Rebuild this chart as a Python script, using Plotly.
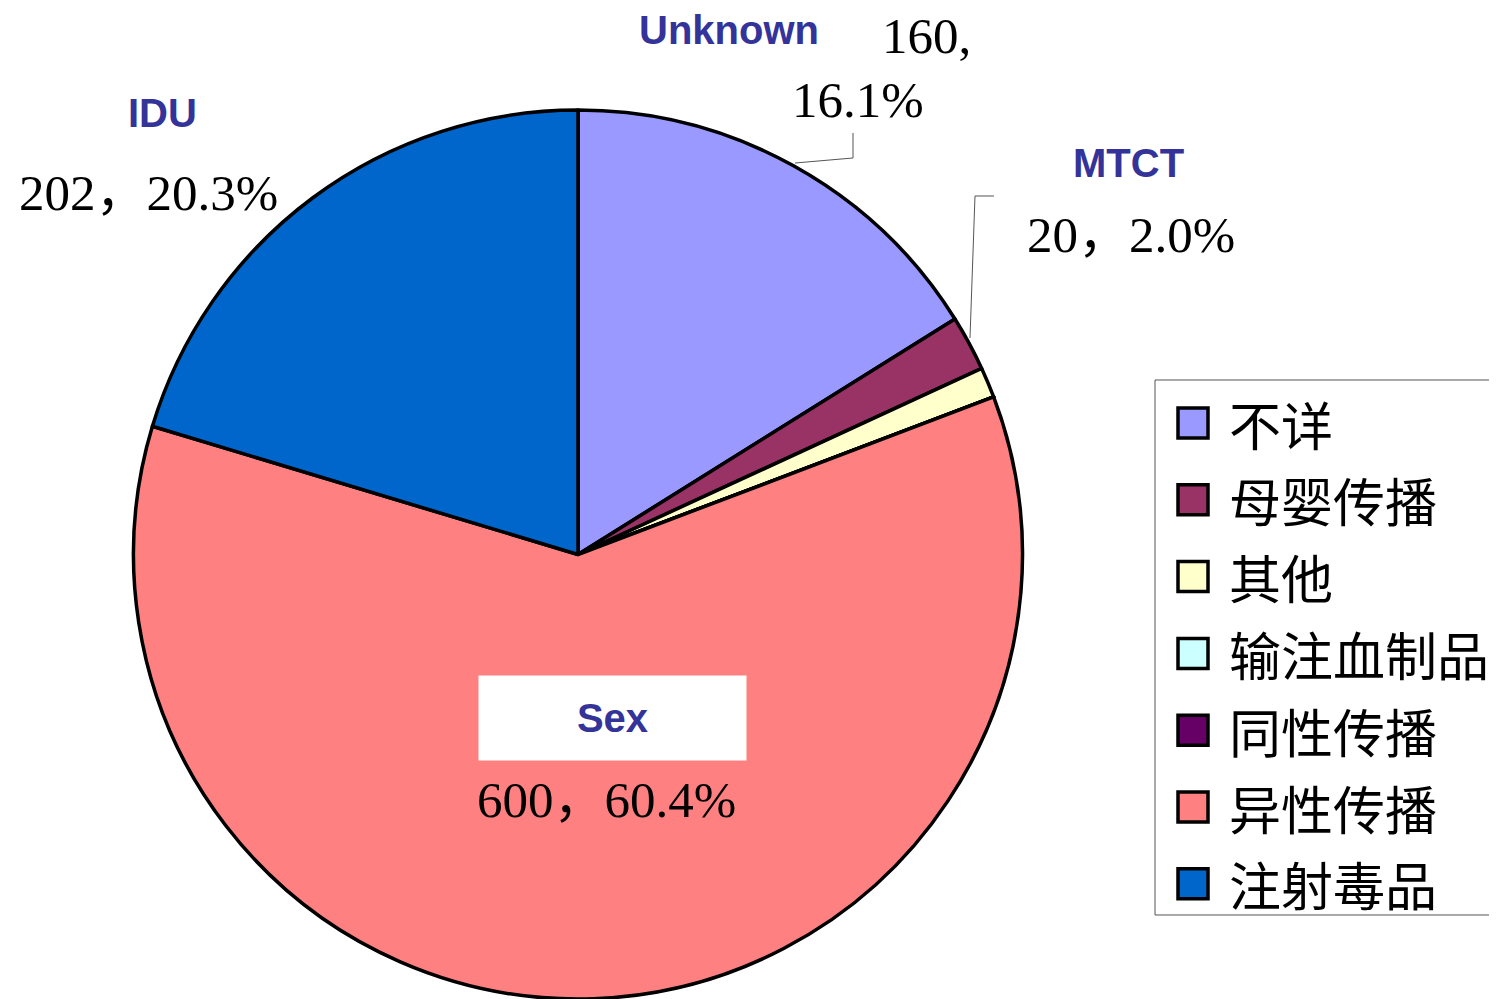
import plotly.graph_objects as go

# data
labels = ['不详', '母婴传播', '其他', '输注血制品', '同性传播', '异性传播', '注射毒品']
values = [160, 20, 11, 0, 0, 600, 202]
colors = ['#9999FF', '#993366', '#FFFFCC', '#CCFFFF', '#660066', '#FF8080', '#0066CC']
en_names = {'不详': 'Unknown', '母婴传播': 'MTCT', '异性传播': 'Sex', '注射毒品': 'IDU'}

# page has an 8px body margin, so the figure is drawn 8px smaller
OFF = 8
W, H = 1497 - OFF, 999 - OFF
total = sum(values)


def px(x):
    return (x - OFF) / W


def py(y):
    return 1 - (y - OFF) / H


fig = go.Figure(go.Pie(
    labels=labels,
    values=values,
    sort=False,
    direction='clockwise',
    rotation=0,
    marker=dict(colors=colors, line=dict(color='black', width=3.5)),
    textinfo='none',
    showlegend=False,
    domain=dict(x=[px(133), px(1023)], y=[0, py(110)]),
))

num_font = dict(family='Liberation Serif, Noto Sans CJK SC', size=51, color='black')
name_font = dict(family='Liberation Sans, Arial', size=40, color='#333399')


def pct(name):
    return values[labels.index(name)] / total * 100


def val_text(name):
    return f'{values[labels.index(name)]}，{pct(name):.1f}%'


annotations = []
# name labels
for name, (x, y) in {'不详': (729, 30), '母婴传播': (1128, 163), '注射毒品': (162, 113)}.items():
    annotations.append(dict(x=px(x), y=py(y), text='<b>%s</b>' % en_names[name],
                            font=name_font, showarrow=False, xanchor='center', yanchor='middle'))
annotations.append(dict(x=px(612.5), y=py(718), text='<b>Sex</b>', font=name_font,
                        showarrow=False, bgcolor='white', width=265, height=82,
                        xanchor='center', yanchor='middle'))

# value labels
annotations.append(dict(x=px(880), y=py(36), text=f"{values[labels.index('不详')]},", font=num_font,
                        showarrow=False, xanchor='left', yanchor='middle'))
annotations.append(dict(x=px(790), y=py(100), text=f"{pct('不详'):.1f}%", font=num_font,
                        showarrow=False, xanchor='left', yanchor='middle'))
for name, (x, y) in {'母婴传播': (1025, 235), '注射毒品': (17, 193), '异性传播': (475, 800)}.items():
    annotations.append(dict(x=px(x), y=py(y), text=val_text(name), font=num_font,
                            showarrow=False, xanchor='left', yanchor='middle'))

shapes = []
# leader lines
lead = dict(type='path', xref='paper', yref='paper', line=dict(color='#555555', width=1))
shapes.append(dict(lead, path='M %f %f L %f %f L %f %f' % (px(795), py(163), px(853), py(158), px(853), py(133))))
shapes.append(dict(lead, path='M %f %f L %f %f L %f %f' % (px(970), py(338), px(975), py(196), px(994), py(196))))

# legend box (right side runs off the page)
shapes.append(dict(type='rect', xref='paper', yref='paper', x0=px(1155), x1=1,
                   y0=py(915), y1=py(380), line=dict(width=0), fillcolor='white'))
shapes.append(dict(lead, path='M 1 %f L %f %f L %f %f L 1 %f' % (
    py(380), px(1155), py(380), px(1155), py(915), py(915))))
for i, (lab, col) in enumerate(zip(labels, colors)):
    cy = 423 + i * 76.8
    shapes.append(dict(type='rect', xref='paper', yref='paper', x0=px(1178), x1=px(1208),
                       y0=py(cy + 15), y1=py(cy - 15), fillcolor=col, line=dict(color='black', width=3.5)))
    annotations.append(dict(x=px(1227), y=py(cy), text=lab,
                            font=dict(family='Noto Sans CJK SC', size=52, color='black'),
                            showarrow=False, xanchor='left', yanchor='middle'))

fig.update_layout(
    width=W, height=H,
    margin=dict(l=0, r=0, t=0, b=0),
    paper_bgcolor='white',
    plot_bgcolor='white',
    annotations=annotations,
    shapes=shapes,
)

fig.write_html('out.html')
